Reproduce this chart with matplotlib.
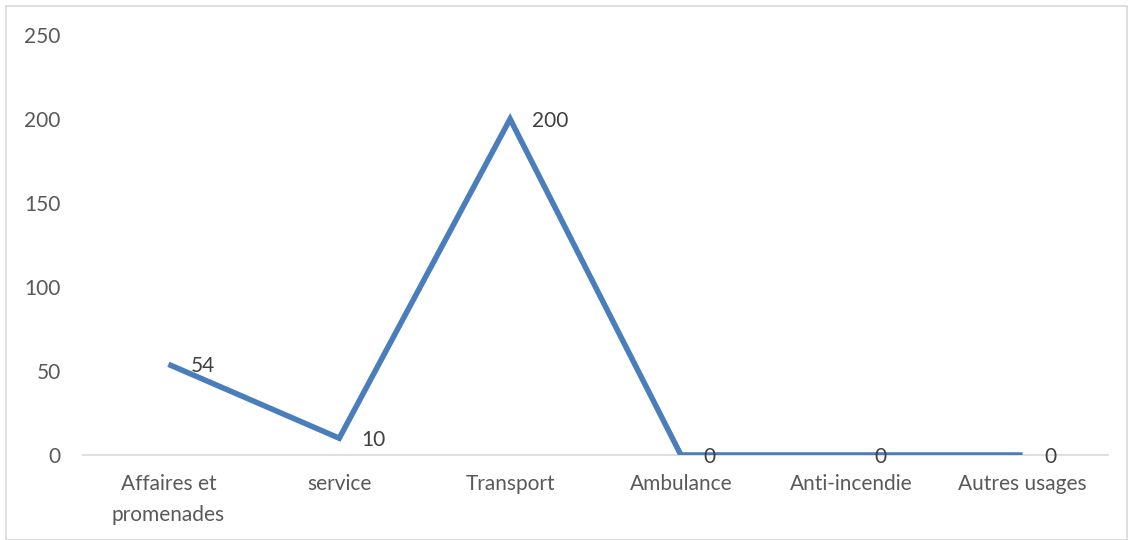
import matplotlib
matplotlib.use("Agg")
import matplotlib.pyplot as plt
from matplotlib.patches import Rectangle

categories = ["Affaires et\npromenades", "service", "Transport", "Ambulance", "Anti-incendie", "Autres usages"]
values = [54, 10, 200, 0, 0, 0]
yticks = [0, 50, 100, 150, 200, 250]

plt.rcParams['font.family'] = ['Lato', 'DejaVu Sans']

fig = plt.figure(figsize=(11.28, 5.4), dpi=100)
ax = fig.add_axes([83/1128, 85/540, 1025/1128, 420/540])

x = list(range(len(categories)))
ax.plot(x, values, color="#4A7EBB", linewidth=4.0, solid_joinstyle="miter", solid_capstyle="butt", zorder=3)

for xi, v in zip(x, values):
    ax.annotate(str(v), (xi, v), xytext=(16, -1.5), textcoords="offset points",
                ha="left", va="center", fontsize=15, color="#404040", zorder=4)

ax.set_xlim(-0.5, len(categories) - 0.5)
ax.set_ylim(0, 250)
ax.set_yticks(yticks)
ax.set_yticklabels([str(t) for t in yticks])
ax.set_xticks(x)
ax.set_xticklabels(categories, linespacing=1.65)

for s in ["top", "right", "left"]:
    ax.spines[s].set_visible(False)
ax.spines["bottom"].set_color("#D9D9D9")
ax.spines["bottom"].set_linewidth(1.2)
ax.tick_params(axis="both", length=0, labelsize=15, colors="#595959")
ax.tick_params(axis="y", pad=16)
ax.tick_params(axis="x", pad=14)

fig.patches.append(Rectangle((6/1128, 0), 1 - 6/1128 - 1/1128, 1 - 6/540, transform=fig.transFigure,
                             fill=False, edgecolor="#D9D9D9", linewidth=1.2))

fig.savefig("out.png", dpi=100)
